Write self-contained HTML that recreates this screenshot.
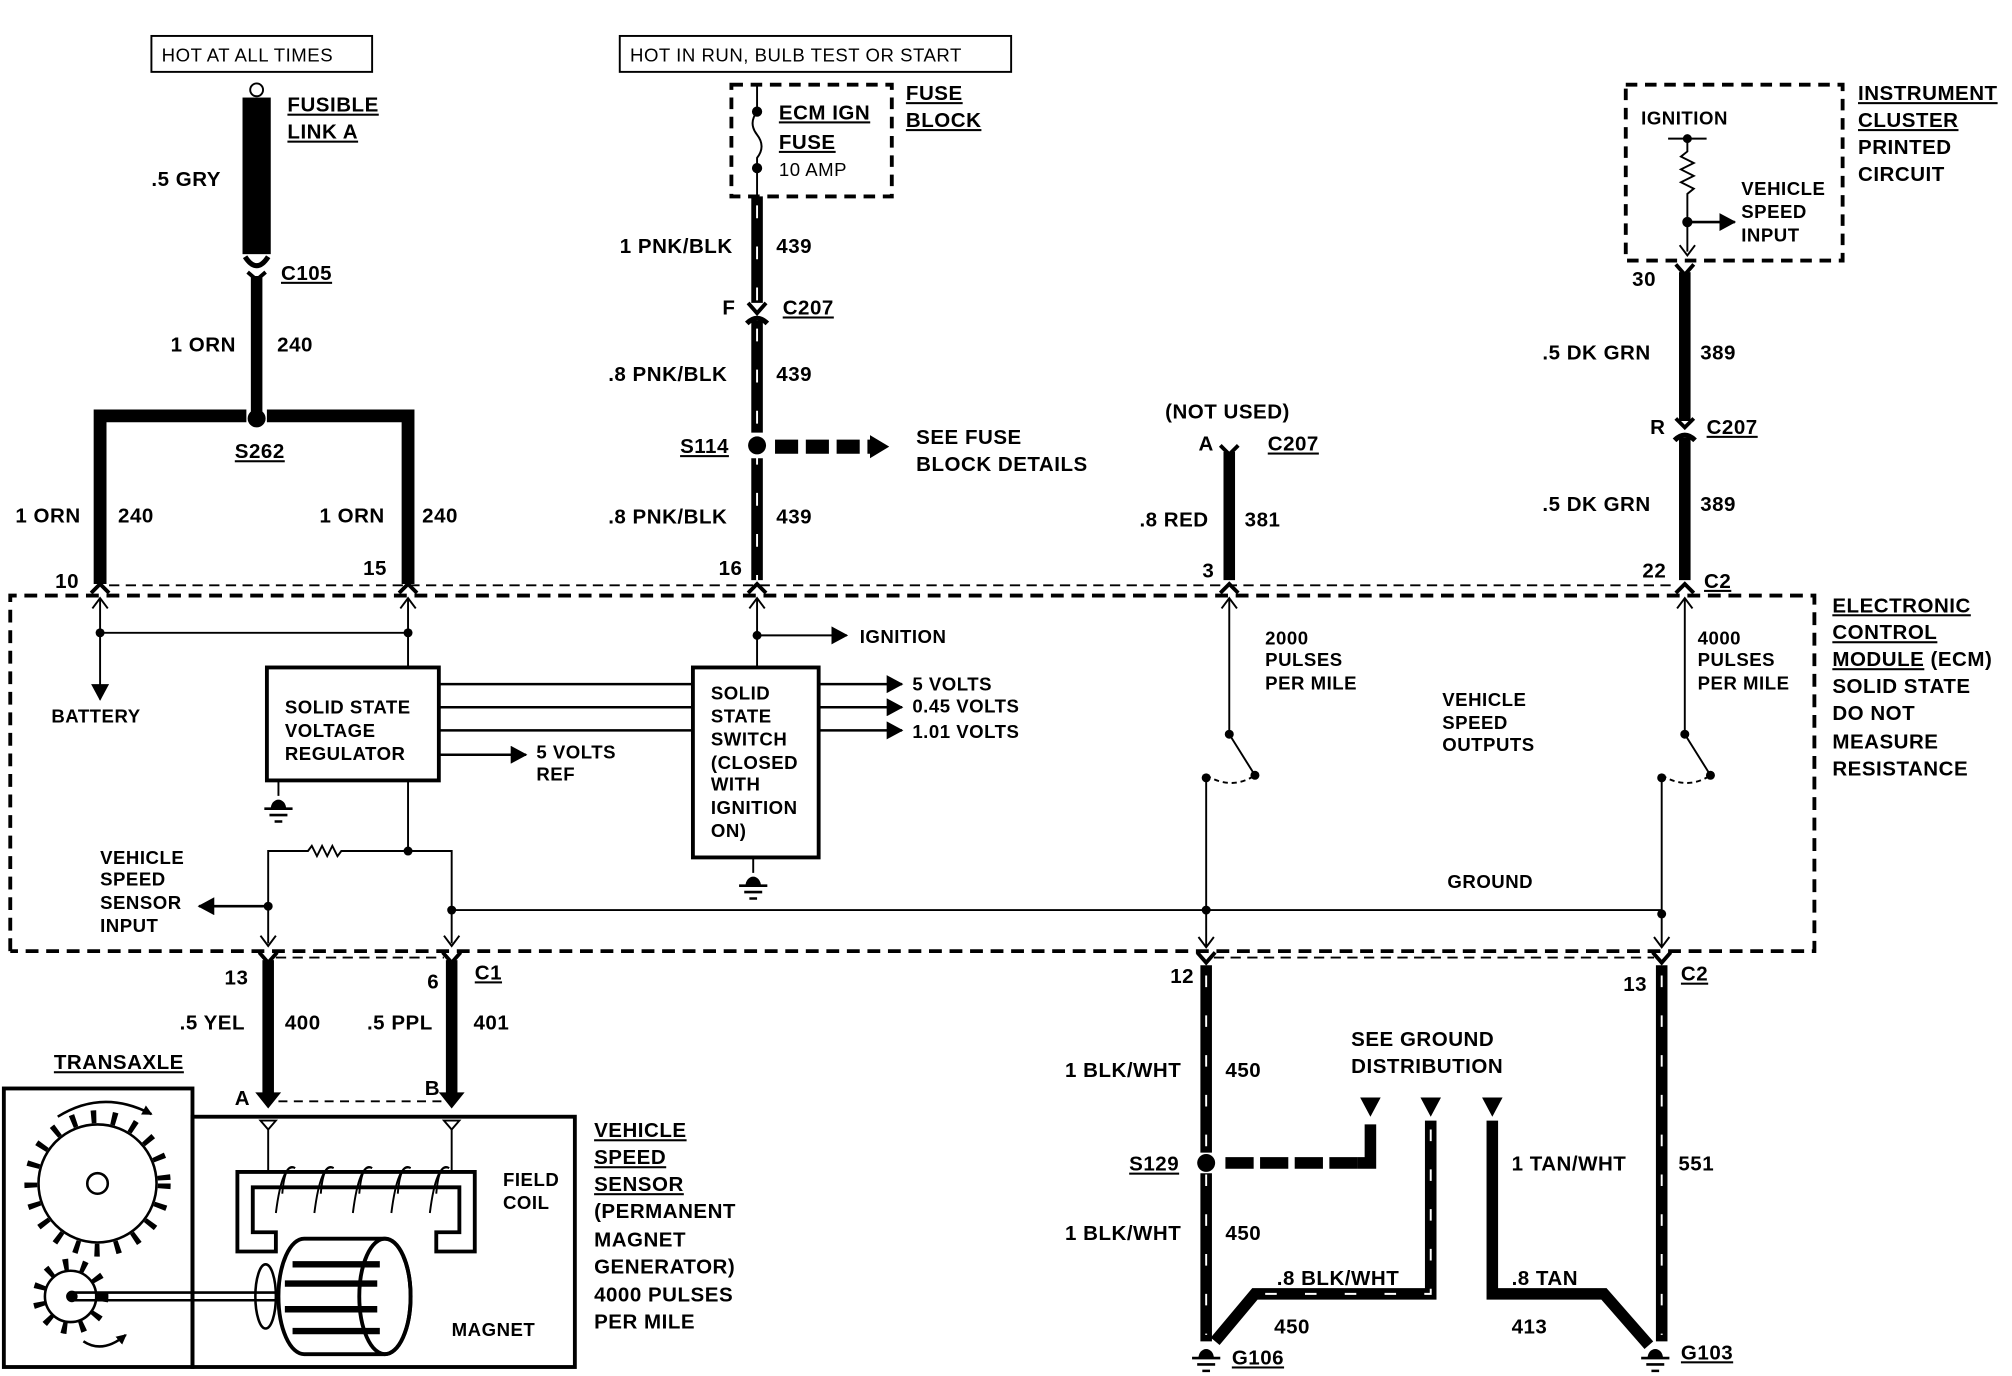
<!DOCTYPE html>
<html><head><meta charset="utf-8"><style>
html,body{margin:0;padding:0;background:#fff}
svg{display:block}
text{font-family:"Liberation Sans",sans-serif;font-weight:bold;font-size:16px;fill:#000;letter-spacing:0.4px}
.u{text-decoration:underline}
.s{font-size:14.5px}
</style></head><body>
<svg width="2012" height="1376" viewBox="0 0 1568 1072" preserveAspectRatio="none" xmlns="http://www.w3.org/2000/svg">
<defs>
<marker id="ah" markerWidth="8" markerHeight="8" refX="7" refY="4" orient="auto" markerUnits="userSpaceOnUse"><path d="M0,0 L8,4 L0,8z" fill="#000"/></marker>
<marker id="ahb" markerWidth="14" markerHeight="14" refX="12" refY="7" orient="auto" markerUnits="userSpaceOnUse"><path d="M0,0 L13,7 L0,14z" fill="#000"/></marker>
</defs>
<g fill="none" stroke="#000">
<rect x="118" y="28" width="172" height="28" stroke-width="1.5"/>
<circle cx="200" cy="70" r="5" stroke-width="1.5"/>
<rect x="189" y="76" width="22" height="122" fill="#000" stroke="none"/>
<path d="M191,200 Q200,214 209,200" stroke-width="4"/>
<path d="M193,212 L200,218 L207,212" stroke-width="3"/>
<line x1="200" y1="215" x2="200" y2="322" stroke-width="9"/>
<path d="M78,455 V324 H192 M208,324 H318 V455" stroke-width="10"/>
<circle cx="200" cy="326" r="7" fill="#000" stroke="none"/>
<rect x="483" y="28" width="305" height="28" stroke-width="1.5"/>
<rect x="570" y="66" width="125" height="87" stroke-width="3" stroke-dasharray="9,6"/>
<path d="M590,66 V87 M590,87 q-7,9 0,18 q7,9 0,18 V131 M590,131 V153" stroke-width="1.5"/>
<circle cx="590" cy="87" r="3.5" fill="#000"/><circle cx="590" cy="131" r="3.5" fill="#000"/>
<line x1="590" y1="153" x2="590" y2="236" stroke-width="9"/>
<path d="M583,236 L590,244 L597,236" stroke-width="3"/>
<path d="M582,252 Q590,244 598,252" stroke-width="4"/>
<line x1="590" y1="250" x2="590" y2="337" stroke-width="9"/>
<line x1="590" y1="357" x2="590" y2="452" stroke-width="9"/>
<line x1="590" y1="160" x2="590" y2="452" stroke="#fff" stroke-width="1.5" stroke-dasharray="10,22"/>
<circle cx="590" cy="347" r="7" fill="#000" stroke="none"/>
<line x1="604" y1="348" x2="678" y2="348" stroke-width="11" stroke-dasharray="18,6"/>
<path d="M678,339 L693,348 L678,357z" fill="#000" stroke="none"/>
<path d="M951,347 L958,354 L965,347" stroke-width="3"/>
<line x1="958" y1="352" x2="958" y2="452" stroke-width="9"/>
<rect x="1267" y="66" width="169" height="137" stroke-width="3" stroke-dasharray="9,6"/>
<path d="M1300,108 H1330 M1315,108 V118 l-5,4 l10,5 l-10,5 l10,5 l-10,5 l10,5 l-5,4 V196" stroke-width="1.5"/>
<circle cx="1315" cy="108" r="3" fill="#000"/><circle cx="1315" cy="173" r="3.5" fill="#000"/>
<line x1="1315" y1="173" x2="1352" y2="173" stroke-width="2" marker-end="url(#ahb)"/>
<path d="M1309,191 L1315,199 L1321,191" stroke-width="1.5"/>
<path d="M1306,206 L1313,214 L1320,206" stroke-width="3"/>
<line x1="1313" y1="212" x2="1313" y2="328" stroke-width="9"/>
<path d="M1306,326 L1313,333 L1320,326" stroke-width="3"/>
<path d="M1305,343 Q1313,335 1321,343" stroke-width="4"/>
<line x1="1313" y1="341" x2="1313" y2="452" stroke-width="9"/>
<g stroke-width="3">
<path d="M71,462 L78,455 L85,462"/><path d="M311,462 L318,455 L325,462"/><path d="M583,462 L590,455 L597,462"/><path d="M951,462 L958,455 L965,462"/><path d="M1306,462 L1313,455 L1320,462"/>
</g>
<line x1="85" y1="456" x2="1306" y2="456" stroke-width="1.5" stroke-dasharray="8,5"/>
<path d="M8,741 V464 H1414 V741 H8" stroke-width="3" stroke-dasharray="10,6"/>
<g stroke-width="1.5">
<path d="M78,466 V545" marker-end="url(#ahb)"/>
<path d="M72,474 L78,466 L84,474 M312,474 L318,466 L324,474 M584,474 L590,466 L596,474 M952,474 L958,466 L964,474 M1307,474 L1313,466 L1319,474"/>
<path d="M78,493 H318 M318,466 V520 M590,466 V520"/>
<line x1="590" y1="495" x2="660" y2="495" marker-end="url(#ahb)"/>
<rect x="208" y="520" width="134" height="88" stroke-width="3"/>
<rect x="540" y="520" width="98" height="148" stroke-width="3"/>
<path d="M342,533 H540 M342,551 H540 M342,569 H540" stroke-width="2"/>
<line x1="638" y1="533" x2="703" y2="533" stroke-width="2" marker-end="url(#ahb)"/>
<line x1="638" y1="551" x2="703" y2="551" stroke-width="2" marker-end="url(#ahb)"/>
<line x1="638" y1="569" x2="703" y2="569" stroke-width="2" marker-end="url(#ahb)"/>
<line x1="342" y1="588" x2="410" y2="588" stroke-width="2" marker-end="url(#ahb)"/>
<path d="M318,608 V663 M209,735 V663 H240 l3,-4 l4,8 l4,-8 l4,8 l4,-8 l4,8 l3,-4 H352 V735 M352,709 H1295"/>
<path d="M203,729 L209,737 L215,729 M346,729 L352,737 L358,729"/>
<line x1="209" y1="706" x2="155" y2="706" stroke-width="2" marker-end="url(#ahb)"/>
<path d="M958,466 V572 L978,604 M940,606 V738 M934,730 L940,738 L946,730"/>
<path d="M940,604 Q960,616 978,604" stroke-dasharray="4,3"/>
<path d="M1313,466 V572 L1333,604 M1295,606 V738 M1289,730 L1295,738 L1301,730"/>
<path d="M1295,604 Q1315,616 1333,604" stroke-dasharray="4,3"/>
<path d="M217,608 V620 M587,668 V680"/>
</g>
<g fill="#000" stroke="none">
<circle cx="78" cy="493" r="3.5"/><circle cx="318" cy="493" r="3.5"/><circle cx="590" cy="495" r="3.5"/>
<circle cx="318" cy="663" r="3.5"/><circle cx="209" cy="706" r="3.5"/><circle cx="352" cy="709" r="3.5"/>
<circle cx="940" cy="709" r="3.5"/><circle cx="1295" cy="712" r="3.5"/>
<circle cx="958" cy="572" r="3.5"/><circle cx="978" cy="604" r="3.5"/><circle cx="940" cy="606" r="3.5"/>
<circle cx="1313" cy="572" r="3.5"/><circle cx="1333" cy="604" r="3.5"/><circle cx="1295" cy="606" r="3.5"/>
<path d="M211,630 a6,7 0 0 1 12,0z"/><path d="M581,690 a6,7 0 0 1 12,0z"/>
</g>
<path d="M206,630 H228 M210,635 H224 M214,640 H220 M576,690 H598 M580,695 H594 M584,700 H590" stroke-width="2"/>
<line x1="215" y1="746" x2="346" y2="746" stroke-width="1.5" stroke-dasharray="8,5"/>
<line x1="946" y1="746" x2="1289" y2="746" stroke-width="1.5" stroke-dasharray="8,5"/>
<g stroke-width="3"><path d="M202,742 L209,750 L216,742 M345,742 L352,750 L359,742 M933,742 L940,750 L947,742 M1288,742 L1295,750 L1302,742"/></g>
<line x1="209" y1="748" x2="209" y2="852" stroke-width="9"/>
<line x1="352" y1="748" x2="352" y2="852" stroke-width="9"/>
<path d="M201,852 L209,862 L217,852z M344,852 L352,862 L360,852z" fill="#000" stroke-width="2"/>
<line x1="217" y1="858" x2="344" y2="858" stroke-width="1.5" stroke-dasharray="7,5"/>
<rect x="3" y="848" width="147" height="217" stroke-width="3"/>
<rect x="150" y="870" width="298" height="195" stroke-width="3"/>
<path d="M203,873 L209,880 L215,873z M346,873 L352,880 L358,873z" stroke-width="1.5"/>
<path d="M209,880 V913 M352,880 V913" stroke-width="1.5"/>
<path d="M185,913 H370 V975 H340 V960 H358 V925 H197 V960 H215 V975 H185z" stroke-width="3"/>
<path d="M220,930 q2,-25 10,-20 M250,930 q2,-25 10,-20 M280,930 q2,-25 10,-20 M310,930 q2,-25 10,-20 M340,930 q2,-25 10,-20" stroke-width="1.5"/>
<path d="M215,945 q5,-40 15,-35 M245,945 q5,-40 15,-35 M275,945 q5,-40 15,-35 M305,945 q5,-40 15,-35 M335,945 q5,-40 15,-35" stroke-width="1.5"/>
<circle cx="76" cy="922" r="46" stroke-width="2"/>
<circle cx="76" cy="922" r="52" stroke-width="10" stroke-dasharray="4,12"/>
<circle cx="76" cy="922" r="8" stroke-width="2"/>
<path d="M45,870 Q80,848 118,868" stroke-width="2" marker-end="url(#ah)"/>
<circle cx="55" cy="1010" r="20" stroke-width="2"/>
<circle cx="55" cy="1010" r="25" stroke-width="9" stroke-dasharray="4,10"/>
<path d="M65,1045 Q80,1055 98,1040" stroke-width="2" marker-end="url(#ah)"/>
<path d="M55,1007 H225 M55,1013 H225" stroke-width="2"/>
<circle cx="56" cy="1010" r="4" fill="#000"/>
<ellipse cx="207" cy="1010" rx="8" ry="25" stroke-width="2"/>
<path d="M237,965 H300 A20,45 0 0 1 300,1055 H237 A20,45 0 0 1 237,965z" stroke-width="3" fill="#fff"/>
<ellipse cx="300" cy="1010" rx="20" ry="45" stroke-width="3"/>
<path d="M228,985 H296 M222,1000 H294 M222,1020 H294 M228,1037 H296" stroke-width="5"/>
<line x1="940" y1="752" x2="940" y2="898" stroke-width="9"/>
<line x1="940" y1="914" x2="940" y2="1045" stroke-width="9"/>
<line x1="1295" y1="752" x2="1295" y2="1045" stroke-width="9"/>
<circle cx="940" cy="906" r="7" fill="#000" stroke="none"/>
<path d="M955,906 H1062" stroke-width="9" stroke-dasharray="22,5"/>
<path d="M1058,906 H1068 V876" stroke-width="9"/>
<path d="M947,1045 L978,1008 H1115 V873" stroke-width="9"/>
<path d="M1163,873 V1008 H1250 L1285,1048" stroke-width="9"/>
<g stroke="#fff" stroke-width="1.5" stroke-dasharray="9,22">
<line x1="940" y1="760" x2="940" y2="1040"/><line x1="1295" y1="760" x2="1295" y2="1040"/>
<path d="M1115,880 V1008 H980"/>
</g>
<path d="M1060,855 H1076 L1068,870z M1107,855 H1123 L1115,870z M1155,855 H1171 L1163,870z" fill="#000" stroke="none"/>
<g fill="#000" stroke="none"><path d="M934,1058 a6,7 0 0 1 12,0z"/><path d="M1284,1058 a6,7 0 0 1 12,0z"/></g>
<path d="M929,1058 H951 M933,1063 H947 M937,1068 H943 M1279,1058 H1301 M1283,1063 H1297 M1287,1068 H1293" stroke-width="2"/>
</g>
<text x="126" y="48" class="s" style="font-weight:normal">HOT AT ALL TIMES</text>
<text x="491" y="48" class="s" style="font-weight:normal">HOT IN RUN, BULB TEST OR START</text>
<text x="224" y="87" class="u">FUSIBLE</text><text x="224" y="108" class="u">LINK A</text>
<text x="118" y="145">.5 GRY</text>
<text x="219" y="218" class="u">C105</text>
<text x="133" y="274">1 ORN</text><text x="216" y="274">240</text>
<text x="183" y="357" class="u">S262</text>
<text x="12" y="407">1 ORN</text><text x="92" y="407">240</text>
<text x="249" y="407">1 ORN</text><text x="329" y="407">240</text>
<text x="43" y="458">10</text><text x="283" y="448">15</text><text x="560" y="448">16</text>
<text x="607" y="93" class="u">ECM IGN</text><text x="607" y="116" class="u">FUSE</text>
<text x="607" y="137" class="s" style="font-weight:normal">10 AMP</text>
<text x="706" y="78" class="u">FUSE</text><text x="706" y="99" class="u">BLOCK</text>
<text x="483" y="197">1 PNK/BLK</text><text x="605" y="197">439</text>
<text x="563" y="245">F</text><text x="610" y="245" class="u">C207</text>
<text x="474" y="297">.8 PNK/BLK</text><text x="605" y="297">439</text>
<text x="530" y="353" class="u">S114</text>
<text x="714" y="346">SEE FUSE</text><text x="714" y="367">BLOCK DETAILS</text>
<text x="474" y="408">.8 PNK/BLK</text><text x="605" y="408">439</text>
<text x="908" y="326">(NOT USED)</text>
<text x="934" y="351">A</text><text x="988" y="351" class="u">C207</text>
<text x="888" y="410">.8 RED</text><text x="970" y="410">381</text>
<text x="937" y="450">3</text>
<text x="1279" y="97" class="s">IGNITION</text>
<text x="1357" y="152" class="s">VEHICLE</text><text x="1357" y="170" class="s">SPEED</text><text x="1357" y="188" class="s">INPUT</text>
<text x="1448" y="78" class="u">INSTRUMENT</text><text x="1448" y="99" class="u">CLUSTER</text>
<text x="1448" y="120">PRINTED</text><text x="1448" y="141">CIRCUIT</text>
<text x="1272" y="223">30</text>
<text x="1202" y="280">.5 DK GRN</text><text x="1325" y="280">389</text>
<text x="1286" y="338">R</text><text x="1330" y="338" class="u">C207</text>
<text x="1202" y="398">.5 DK GRN</text><text x="1325" y="398">389</text>
<text x="1280" y="450">22</text><text x="1328" y="458" class="u">C2</text>
<text x="670" y="501" class="s">IGNITION</text>
<text x="40" y="563" class="s">BATTERY</text>
<text x="222" y="556" class="s">SOLID STATE</text><text x="222" y="574" class="s">VOLTAGE</text><text x="222" y="592" class="s">REGULATOR</text>
<text x="418" y="591" class="s">5 VOLTS</text><text x="418" y="608" class="s">REF</text>
<text x="554" y="545" class="s">SOLID</text><text x="554" y="563" class="s">STATE</text><text x="554" y="581" class="s">SWITCH</text>
<text x="554" y="599" class="s">(CLOSED</text><text x="554" y="616" class="s">WITH</text><text x="554" y="634" class="s">IGNITION</text><text x="554" y="652" class="s">ON)</text>
<text x="711" y="538" class="s">5 VOLTS</text><text x="711" y="555" class="s">0.45 VOLTS</text><text x="711" y="575" class="s">1.01 VOLTS</text>
<text x="78" y="673" class="s">VEHICLE</text><text x="78" y="690" class="s">SPEED</text><text x="78" y="708" class="s">SENSOR</text><text x="78" y="726" class="s">INPUT</text>
<text x="1128" y="692" class="s">GROUND</text>
<text x="986" y="502" class="s">2000</text><text x="986" y="519" class="s">PULSES</text><text x="986" y="537" class="s">PER MILE</text>
<text x="1323" y="502" class="s">4000</text><text x="1323" y="519" class="s">PULSES</text><text x="1323" y="537" class="s">PER MILE</text>
<text x="1124" y="550" class="s">VEHICLE</text><text x="1124" y="568" class="s">SPEED</text><text x="1124" y="585" class="s">OUTPUTS</text>
<text x="1428" y="477" class="u">ELECTRONIC</text><text x="1428" y="498" class="u">CONTROL</text>
<text x="1428" y="519"><tspan class="u">MODULE</tspan> (ECM)</text>
<text x="1428" y="540">SOLID STATE</text><text x="1428" y="561">DO NOT</text><text x="1428" y="583">MEASURE</text><text x="1428" y="604">RESISTANCE</text>
<text x="175" y="767">13</text><text x="333" y="770">6</text><text x="370" y="763" class="u">C1</text>
<text x="140" y="802">.5 YEL</text><text x="222" y="802">400</text>
<text x="286" y="802">.5 PPL</text><text x="369" y="802">401</text>
<text x="183" y="861">A</text><text x="331" y="853">B</text>
<text x="42" y="833" class="u">TRANSAXLE</text>
<text x="392" y="924" class="s">FIELD</text><text x="392" y="942" class="s">COIL</text><text x="352" y="1041" class="s">MAGNET</text>
<text x="463" y="886" class="u">VEHICLE</text><text x="463" y="907" class="u">SPEED</text><text x="463" y="928" class="u">SENSOR</text>
<text x="463" y="949">(PERMANENT</text><text x="463" y="971">MAGNET</text><text x="463" y="992">GENERATOR)</text>
<text x="463" y="1014">4000 PULSES</text><text x="463" y="1035">PER MILE</text>
<text x="912" y="766">12</text>
<text x="830" y="839">1 BLK/WHT</text><text x="955" y="839">450</text>
<text x="880" y="912" class="u">S129</text>
<text x="830" y="966">1 BLK/WHT</text><text x="955" y="966">450</text>
<text x="960" y="1063" class="u">G106</text>
<text x="995" y="1001">.8 BLK/WHT</text><text x="993" y="1039">450</text>
<text x="1053" y="815">SEE GROUND</text><text x="1053" y="836">DISTRIBUTION</text>
<text x="1178" y="912">1 TAN/WHT</text><text x="1308" y="912">551</text>
<text x="1178" y="1001">.8 TAN</text><text x="1178" y="1039">413</text>
<text x="1265" y="772">13</text><text x="1310" y="764" class="u">C2</text>
<text x="1310" y="1059" class="u">G103</text>
</svg>
</body></html>
